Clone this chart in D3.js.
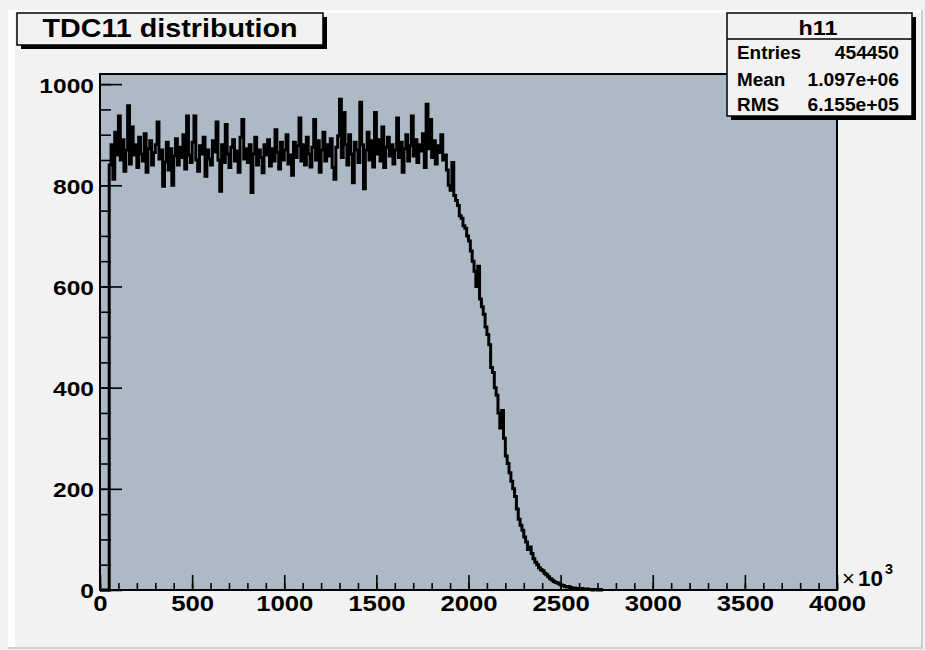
<!DOCTYPE html>
<html>
<head>
<meta charset="utf-8">
<script src="https://cdn.jsdelivr.net/npm/d3@7"></script>
<style>
	body { margin: 0; background: #f2f2f2; }
	svg { display: block; }
	text { font-family: "Liberation Sans", Arial, sans-serif; font-weight: bold; fill: #000; }
</style>
</head>
<body>
<svg id="chart" width="925" height="650"></svg>
<script>
var title = "TDC11 distribution";
var histName = "h11";
var statLabels = ["Entries", "Mean", "RMS"];
var statValues = ["454450", "1.097e+06", "6.155e+05"];

var xTicks = [0, 500, 1000, 1500, 2000, 2500, 3000, 3500, 4000];
var yTicks = [0, 200, 400, 600, 800, 1000];
var xDomain = [0, 4000];
var yDomain = [0, 1020];
var binWidth = 10;

//  bin contents (width 10, x in units of 10^3)
var binCounts = [
	0, 0, 0, 0, 0, 840, 880, 812, 905, 860,
	937, 850, 890, 828, 870, 957, 842, 915, 860, 880,
	835, 895, 862, 848, 902, 826, 872, 888, 840, 865,
	880, 925, 852, 870, 798, 846, 885, 830, 872, 800,
	858, 892, 840, 875, 855, 900, 832, 937, 860, 845,
	885, 937, 850, 828, 878, 862, 895, 818, 870, 852,
	840, 888, 866, 925, 850, 788, 880, 845, 920, 862,
	835, 875, 890, 848, 868, 826, 895, 930, 852, 872,
	845, 880, 786, 862, 895, 840, 870, 855, 825, 880,
	860, 890, 838, 872, 848, 910, 865, 832, 885, 850,
	870, 900, 842, 860, 820, 885, 855, 878, 933, 848,
	880, 840, 895, 862, 836, 875, 930, 850, 888, 826,
	870, 905, 848, 880, 858, 892, 835, 812, 875, 898,
	970, 855, 944, 880, 840, 900, 862, 805, 885, 870,
	845, 964, 880, 793, 870, 905, 850, 888, 836, 944,
	862, 890, 848, 915, 835, 875, 895, 858, 880, 842,
	870, 933, 855, 885, 826, 872, 900, 848, 878, 937,
	858, 890, 845, 880, 868, 902, 835, 960, 872, 930,
	855, 888, 842, 878, 865, 900, 850, 860, 830, 800,
	790, 845, 780, 770, 760, 740, 735, 720, 715, 700,
	690, 670, 650, 630, 600, 640, 575, 560, 545, 520,
	505, 485, 440, 430, 400, 385, 350, 320, 355, 300,
	265, 250, 232, 215, 200, 185, 160, 140, 128, 118,
	105, 95, 80, 85, 72, 62, 55, 50, 44, 40,
	38, 33, 30, 26, 22, 20, 17, 15, 14, 12,
	10, 9, 7, 6, 7, 5, 4, 4, 3, 3,
	2, 3, 2, 1, 2, 1, 1, 0, 1, 1,
	0, 1, 0
];

var svg = d3.select("#chart");

var x = d3.scaleLinear().domain(xDomain).range([100, 837]);
var y = d3.scaleLinear().domain(yDomain).range([590, 74]);

function stretch(sel, f) {
	sel.each(function() {
		var w = this.getComputedTextLength();
		d3.select(this).attr("textLength", w * f).attr("lengthAdjust", "spacingAndGlyphs");
	});
}

//  pad with raised border
svg.append("rect").attr("width", 925).attr("height", 650).attr("fill", "#f2f2f2");
svg.append("rect").attr("x", 8).attr("y", 10).attr("width", 7).attr("height", 638).attr("fill", "#ffffff");
svg.append("rect").attr("x", 8).attr("y", 10).attr("width", 915).attr("height", 3).attr("fill", "#ffffff");
svg.append("rect").attr("x", 8).attr("y", 647).attr("width", 915).attr("height", 2).attr("fill", "#cfcfcf");
svg.append("rect").attr("x", 921).attr("y", 10).attr("width", 2).attr("height", 639).attr("fill", "#cfcfcf");

//  frame
svg.append("rect")
	.attr("x", x(xDomain[0])).attr("y", y(yDomain[1]))
	.attr("width", x(xDomain[1]) - x(xDomain[0]))
	.attr("height", y(yDomain[0]) - y(yDomain[1]))
	.attr("fill", "#adbac6");

//  histogram
var pts = binCounts.map(function(d, i) { return [i * binWidth, d]; });
pts.push([binCounts.length * binWidth, 0]);
var line = d3.line()
	.x(function(d) { return x(d[0]); })
	.y(function(d) { return y(d[1]); })
	.curve(d3.curveStepAfter);
svg.append("path")
	.attr("d", line(pts))
	.attr("fill", "none")
	.attr("stroke", "#000")
	.attr("stroke-width", 3)
	.attr("stroke-linejoin", "miter");

//  minor ticks
svg.append("g")
	.attr("transform", "translate(0," + y(0) + ")")
	.call(d3.axisBottom(x).tickValues(d3.range(0, 4001, 100)).tickSize(-7).tickSizeOuter(0).tickFormat(""))
	.call(function(g) { g.select(".domain").remove(); g.selectAll("line").attr("stroke-width", 1.6); });
svg.append("g")
	.attr("transform", "translate(" + x(0) + ",0)")
	.call(d3.axisLeft(y).tickValues(d3.range(0, 1001, 50)).tickSize(-11).tickSizeOuter(0).tickFormat(""))
	.call(function(g) { g.select(".domain").remove(); g.selectAll("line").attr("stroke-width", 1.6); });

//  major ticks and labels
var xAxis = svg.append("g")
	.attr("transform", "translate(0," + y(0) + ")")
	.call(d3.axisBottom(x).tickValues(xTicks).tickSize(-15).tickSizeOuter(0).tickPadding(5).tickFormat(d3.format("d")));
xAxis.select(".domain").remove();
xAxis.selectAll("line").attr("stroke-width", 1.6);
xAxis.selectAll("text").attr("font-size", 22).attr("font-family", null).attr("fill", "#000");
stretch(xAxis.selectAll("text"), 1.17);

var yAxis = svg.append("g")
	.attr("transform", "translate(" + x(0) + ",0)")
	.call(d3.axisLeft(y).tickValues(yTicks).tickSize(-22).tickSizeOuter(0).tickPadding(6).tickFormat(d3.format("d")));
yAxis.select(".domain").remove();
yAxis.selectAll("line").attr("stroke-width", 1.6);
yAxis.selectAll("text").attr("font-size", 21).attr("font-family", null).attr("fill", "#000").attr("dy", "0.38em");
stretch(yAxis.selectAll("text"), 1.17);

//  frame border
svg.append("rect")
	.attr("x", x(xDomain[0])).attr("y", y(yDomain[1]))
	.attr("width", x(xDomain[1]) - x(xDomain[0]))
	.attr("height", y(yDomain[0]) - y(yDomain[1]))
	.attr("fill", "none")
	.attr("stroke", "#000")
	.attr("stroke-width", 2);

//  x10^3 exponent
svg.append("text").attr("x", x(xDomain[1]) + 5).attr("y", 586)
	.attr("font-size", 22).style("font-weight", "normal").text("\u00d7");
svg.append("text").attr("x", 858).attr("y", 586)
	.attr("font-size", 22).attr("textLength", 25).attr("lengthAdjust", "spacingAndGlyphs").text("10");
svg.append("text").attr("x", 885).attr("y", 574)
	.attr("font-size", 14).attr("textLength", 8).attr("lengthAdjust", "spacingAndGlyphs").text("3");

//  title box
svg.append("rect").attr("x", 21).attr("y", 17).attr("width", 306).attr("height", 32).attr("fill", "#000");
svg.append("rect").attr("x", 17).attr("y", 13).attr("width", 306).attr("height", 32)
	.attr("fill", "#f2f2f2").attr("stroke", "#000").attr("stroke-width", 1.5);
svg.append("text")
	.attr("x", 170).attr("y", 37)
	.attr("text-anchor", "middle")
	.attr("font-size", 25)
	.attr("textLength", 255).attr("lengthAdjust", "spacingAndGlyphs")
	.text(title);

//  stats box
svg.append("rect").attr("x", 731).attr("y", 17).attr("width", 185).attr("height", 103).attr("fill", "#000");
svg.append("rect").attr("x", 727).attr("y", 13).attr("width", 185).attr("height", 103)
	.attr("fill", "#f2f2f2").attr("stroke", "#000").attr("stroke-width", 1.5);
svg.append("line").attr("x1", 727).attr("x2", 912).attr("y1", 39).attr("y2", 39)
	.attr("stroke", "#000").attr("stroke-width", 1.5);
svg.append("text")
	.attr("x", 818).attr("y", 35)
	.attr("text-anchor", "middle")
	.attr("font-size", 21)
	.attr("textLength", 39).attr("lengthAdjust", "spacingAndGlyphs")
	.text(histName);

var rowY = [59, 86, 111];
var labels = svg.selectAll(".stat-label")
	.data(statLabels)
	.enter().append("text")
	.attr("class", "stat-label")
	.attr("x", 737)
	.attr("y", function(d, i) { return rowY[i]; })
	.attr("font-size", 17.5)
	.text(function(d) { return d; });
stretch(labels, 1.08);
var values = svg.selectAll(".stat-value")
	.data(statValues)
	.enter().append("text")
	.attr("class", "stat-value")
	.attr("x", 899)
	.attr("y", function(d, i) { return rowY[i]; })
	.attr("text-anchor", "end")
	.attr("font-size", 17.5)
	.text(function(d) { return d; });
stretch(values, 1.1);
</script>
</body>
</html>
